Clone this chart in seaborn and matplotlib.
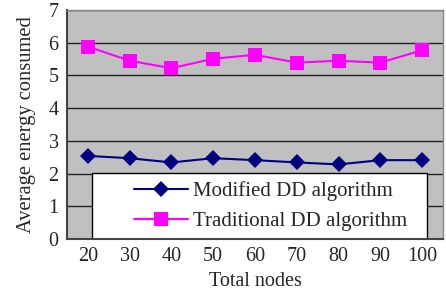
import matplotlib
matplotlib.use("Agg")
import matplotlib.pyplot as plt
from matplotlib.patches import Rectangle
import seaborn as sns
import pandas as pd

nodes = ["20", "30", "40", "50", "60", "70", "80", "90", "100"]
modified = [2.54, 2.47, 2.34, 2.47, 2.41, 2.34, 2.28, 2.41, 2.41]
traditional = [5.88, 5.45, 5.22, 5.51, 5.63, 5.39, 5.45, 5.39, 5.77]
series_names = ["Modified DD algorithm", "Traditional DD algorithm"]

df = pd.DataFrame({
    "Total nodes": nodes * 2,
    "value": modified + traditional,
    "series": [series_names[0]] * len(nodes) + [series_names[1]] * len(nodes),
})

sns.set_style("white")
plt.rcParams["font.family"] = ["Liberation Serif", "DejaVu Serif"]

fig = plt.figure(figsize=(4.46, 2.93), dpi=100)
ax = fig.add_axes([67 / 446, (293 - 239) / 293, 376 / 446, 229 / 293])
ax.set_facecolor("#C0C0C0")

sns.lineplot(data=df, x="Total nodes", y="value", hue="series", style="series",
             palette={series_names[0]: "#000080", series_names[1]: "#FF00FF"},
             markers={series_names[0]: "D", series_names[1]: "s"},
             dashes=False, markersize=9, linewidth=1.5, sort=False, ax=ax,
             markeredgewidth=0)
for line in ax.lines:
    if line.get_marker() == "D":
        line.set_markersize(8)
    elif line.get_marker() == "s":
        line.set_markersize(10)

ax.set_xlim(-0.5, 8.5)
ax.set_ylim(0, 7)
ax.set_yticks(range(0, 8))
ax.yaxis.grid(True, color="#222222", linewidth=1, zorder=0.5)
ax.set_axisbelow(True)
ax.tick_params(axis="both", labelsize=14.5, length=0, pad=6)
ax.set_xlabel("Total nodes", fontsize=14.5, labelpad=4)
ax.set_ylabel("Average energy consumed", fontsize=14.8, labelpad=9)
for s in ["left", "bottom"]:
    ax.spines[s].set_color("#444444")
    ax.spines[s].set_linewidth(1.5)
for s in ["top", "right"]:
    ax.spines[s].set_color("#888888")
    ax.spines[s].set_linewidth(1)

box = Rectangle((0.066, 0.0), 0.891, 0.29, transform=ax.transAxes,
                facecolor="white", edgecolor="black", linewidth=1, zorder=1.5)
ax.add_patch(box)

leg = ax.legend(loc="center left", bbox_to_anchor=(0.178, 0.143),
                fontsize=15, frameon=False, borderaxespad=0,
                handlelength=2.6, labelspacing=0.5, borderpad=0.0,
                handletextpad=0.25)
leg.set_title(None)
leg.set_zorder(3)

fig.savefig("out.png", dpi=100)
